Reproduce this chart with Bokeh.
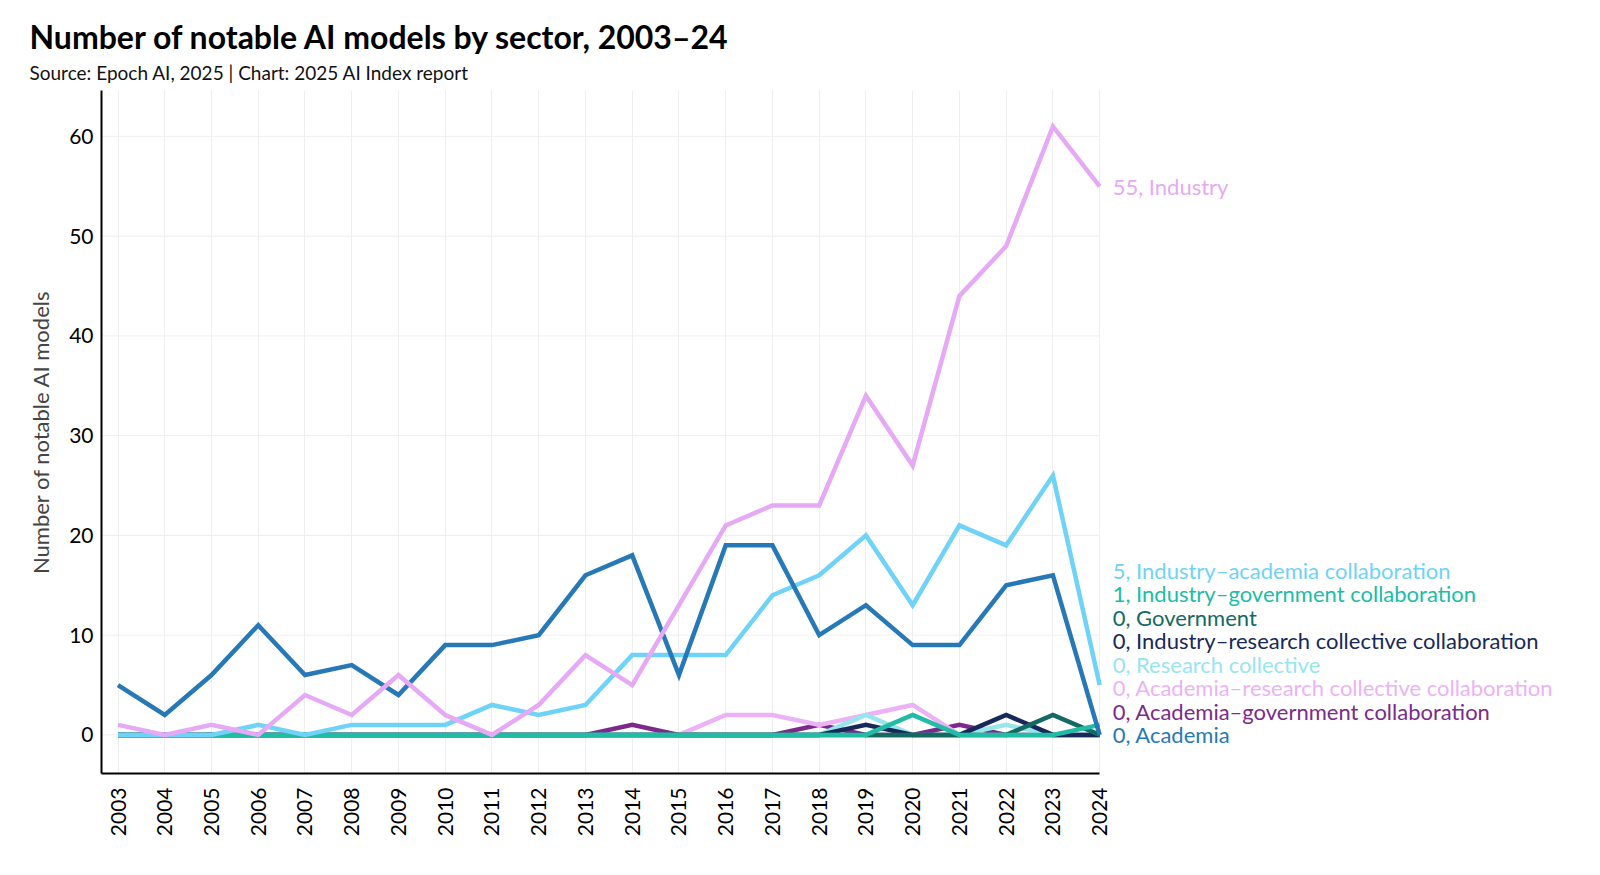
import math
from bokeh.plotting import figure
from bokeh.models import Range1d, FixedTicker, Title, ColumnDataSource
from bokeh.embed import file_html
from bokeh.resources import INLINE

years = [2003, 2004, 2005, 2006, 2007, 2008, 2009, 2010, 2011, 2012, 2013,
         2014, 2015, 2016, 2017, 2018, 2019, 2020, 2021, 2022, 2023, 2024]

academia = [5, 2, 6, 11, 6, 7, 4, 9, 9, 10, 16, 18, 6, 19, 19, 10, 13, 9, 9, 15, 16, 0]
industry = [1, 0, 1, 0, 4, 2, 6, 2, 0, 3, 8, 5, 13, 21, 23, 23, 34, 27, 44, 49, 61, 55]
industry_academia = [0, 0, 0, 1, 0, 1, 1, 1, 3, 2, 3, 8, 8, 8, 14, 16, 20, 13, 21, 19, 26, 5]
industry_government = [0, 0, 0, 0, 0, 0, 0, 0, 0, 0, 0, 0, 0, 0, 0, 0, 0, 2, 0, 0, 0, 1]
government = [0, 0, 0, 0, 0, 0, 0, 0, 0, 0, 0, 0, 0, 0, 0, 0, 0, 0, 0, 0, 2, 0]
industry_research = [0, 0, 0, 0, 0, 0, 0, 0, 0, 0, 0, 0, 0, 0, 0, 0, 1, 0, 0, 2, 0, 0]
research_collective = [0, 0, 0, 0, 0, 0, 0, 0, 0, 0, 0, 0, 0, 0, 0, 0, 2, 0, 0, 1, 0, 0]
academia_research = [0, 0, 0, 0, 0, 0, 0, 0, 0, 0, 0, 0, 0, 2, 2, 1, 2, 3, 0, 0, 0, 0]
academia_government = [0, 0, 0, 0, 0, 0, 0, 0, 0, 0, 0, 1, 0, 0, 0, 1, 0, 0, 1, 0, 0, 0]

y_ticks = [0, 10, 20, 30, 40, 50, 60]

# name, values, colour  (listed bottom-of-label-stack first)
series = [
    ("Academia", academia, "#2679b6"),
    ("Academia\u2013government collaboration", academia_government, "#7b2a8c"),
    ("Academia\u2013research collective collaboration", academia_research, "#ebb3f6"),
    ("Research collective", research_collective, "#97e6ee"),
    ("Industry\u2013research collective collaboration", industry_research, "#17295a"),
    ("Government", government, "#146a62"),
    ("Industry\u2013government collaboration", industry_government, "#21bca5"),
    ("Industry\u2013academia collaboration", industry_academia, "#6fd3f7"),
    ("Industry", industry, "#e6a9f6"),
]
draw_order = [
    "Academia\u2013government collaboration",
    "Academia\u2013research collective collaboration",
    "Research collective",
    "Industry\u2013research collective collaboration",
    "Government",
    "Industry\u2013government collaboration",
    "Industry\u2013academia collaboration",
    "Academia",
    "Industry",
]

FONT = "Lato"
X0, X_END, X1 = 2002.647, 2024, 2034.5

p = figure(width=1590, height=853, output_backend="svg", toolbar_location=None,
           x_range=Range1d(X0, X1), y_range=Range1d(-3.87, 64.6),
           min_border_left=101, min_border_right=0, min_border_bottom=80,
           min_border_top=90)
p.outline_line_color = None
p.background_fill_color = "white"
p.border_fill_color = "white"

sub = Title(text="Source: Epoch AI, 2025 | Chart: 2025 AI Index report",
            text_font=FONT, text_font_size="19px", text_font_style="normal",
            text_color="#111111", align="left", offset=-72, standoff=14)
ttl = Title(text="Number of notable AI models by sector, 2003\u201324",
            text_font=FONT, text_font_size="32px", text_font_style="bold",
            text_color="#000000", align="left", offset=-72, standoff=-9)
p.add_layout(sub, "above")
p.add_layout(ttl, "above")

# horizontal grid lines limited to the data span
p.ygrid.visible = False
p.segment(x0=[X0] * len(y_ticks), x1=[X_END] * len(y_ticks), y0=y_ticks, y1=y_ticks,
          line_color="#efefef", line_width=1, level="underlay")

lookup = {n: (v, c) for n, v, c in series}
for name in draw_order:
    vals, col = lookup[name]
    p.line(years, vals, line_color=col, line_width=4.5, line_join="miter")

# end labels, stacked upward to avoid overlap
gap = 2.36
lab_y, lab_text, lab_col = [], [], []
prev = None
for name, vals, col in series:
    v = vals[-1]
    y = v if prev is None else max(v, prev + gap)
    prev = y
    lab_y.append(y)
    lab_text.append(f"{v}, {name}")
    lab_col.append(col)
src = ColumnDataSource(dict(x=[years[-1]] * len(lab_y), y=lab_y, t=lab_text, c=lab_col))
p.text(x="x", y="y", text="t", source=src, text_color="c",
       x_offset=13, text_baseline="middle", text_align="left",
       text_font={"value": FONT}, text_font_size={"value": "22px"})

p.xaxis.ticker = FixedTicker(ticks=years)
p.xaxis.bounds = (X0, X_END)
p.yaxis.ticker = FixedTicker(ticks=y_ticks)
p.xaxis.major_label_orientation = math.pi / 2
for ax in (p.xaxis, p.yaxis):
    ax.axis_line_color = "black"
    ax.axis_line_width = 2
    ax.major_tick_line_color = None
    ax.minor_tick_line_color = None
    ax.major_label_text_font = FONT
    ax.major_label_text_font_size = "21px"
    ax.major_label_text_color = "black"
p.xaxis.major_label_standoff = 8
p.yaxis.major_label_standoff = 2
p.yaxis.axis_label = "Number of notable AI models"
p.yaxis.axis_label_text_font = FONT
p.yaxis.axis_label_text_font_size = "22px"
p.yaxis.axis_label_text_font_style = "normal"
p.yaxis.axis_label_standoff = 12

p.xgrid.ticker = FixedTicker(ticks=years)
p.xgrid.grid_line_color = "#efefef"

open("out.html", "w").write(file_html(p, INLINE))
